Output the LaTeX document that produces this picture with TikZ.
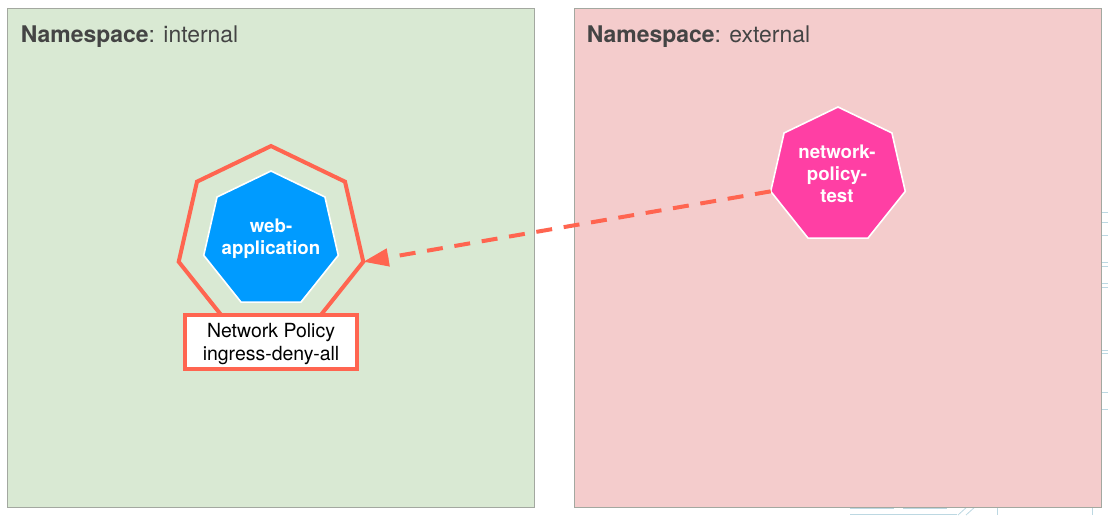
\documentclass[tikz,border=0pt]{standalone}
\usepackage{fontspec}
\setmainfont{TeX Gyre Heros}
\usetikzlibrary{shapes.geometric,arrows.meta}
\definecolor{nsgreen}{HTML}{D9E9D3}
\definecolor{nsred}{HTML}{F4CCCC}
\definecolor{nsline}{HTML}{A3A8A0}
\definecolor{nstext}{HTML}{444444}
\definecolor{policyred}{HTML}{FF6550}
\definecolor{podblue}{HTML}{009BFF}
\definecolor{podpink}{HTML}{FF3FA4}
\definecolor{traceblue}{HTML}{BCD8E2}
\tikzset{
  namespace/.style={rectangle, draw=nsline, line width=0.6pt, anchor=north west, inner sep=0pt, outer sep=0pt},
  nslabel/.style={anchor=base west, inner sep=0pt, text=nstext, font=\fontsize{17.2}{20}\selectfont},
  pod/.style={regular polygon, regular polygon sides=7, minimum size=103.5pt, inner sep=0pt, outer sep=0pt, draw=white, line width=1.2pt},
  podtext/.style={text=white, align=center, inner sep=0pt, font=\fontsize{14}{16.5}\selectfont\bfseries},
  policyring/.style={regular polygon, regular polygon sides=7, minimum size=142pt, inner sep=0pt, outer sep=0pt, draw=policyred, line width=3pt},
  policybox/.style={rectangle, draw=policyred, fill=white, line width=3pt, inner sep=0pt, minimum width=129pt, minimum height=41pt},
  policytext/.style={align=center, inner sep=0pt, font=\fontsize{14.6}{17}\selectfont},
  trace/.style={draw=traceblue, line width=0.6pt}
}
\begin{document}
\begin{tikzpicture}[x=0.75pt, y=-0.75pt]
  \useasboundingbox (0,0) rectangle (1108,515);
  % Background traces
  \foreach \y in {212,222,235,262,266,283,287,350,353,392,409}
    \draw [trace] (1100,\y) -- (1108,\y);
  \draw [trace] (850,508) -- (894,508);
  \draw [trace] (903,508) -- (947,508);
  \draw [trace] (850,514) -- (957,514);
  \draw [trace] (958,515) -- (968,506);
  \draw [trace] (966,515) -- (976,506);
  \draw [trace] (997,506) -- (997,515);
  \draw [trace] (1092,506) -- (1092,515);

  % Namespaces
  \node (internal) [namespace, fill=nsgreen, minimum width=395pt, minimum height=374.25pt] at (7.5,8) {};
  \node (external) [namespace, fill=nsred, minimum width=395pt, minimum height=374.25pt] at (574.5,8) {};
  \node (internallabel) [nslabel] at (20.5,42) {\textbf{Namespace}: internal};
  \node (externallabel) [nslabel] at (586.5,42) {\textbf{Namespace}: external};

  % Pods
  \node (ring) [policyring] at (271,240.7) {};
  \node (web) [pod, fill=podblue] at (271,240) {};
  \node (webtext) [podtext] at (271,239) {web-\\application};
  \node (test) [pod, fill=podpink] at (838,176) {};
  \node (testtext) [podtext] at (837,174) {network-\\policy-\\test};
  \node (policy) [policybox] at (271,342) {};
  \node (policylabel) [policytext] at (271,344) {Network Policy\\ingress-deny-all};

  % Edges
  \draw [policyred, line width=3pt, dash pattern=on 12pt off 8.8pt, -{Triangle[length=19pt, width=13pt, fill=policyred]}] (test.corner 3) -- (ring.corner 6);
\end{tikzpicture}
\end{document}
